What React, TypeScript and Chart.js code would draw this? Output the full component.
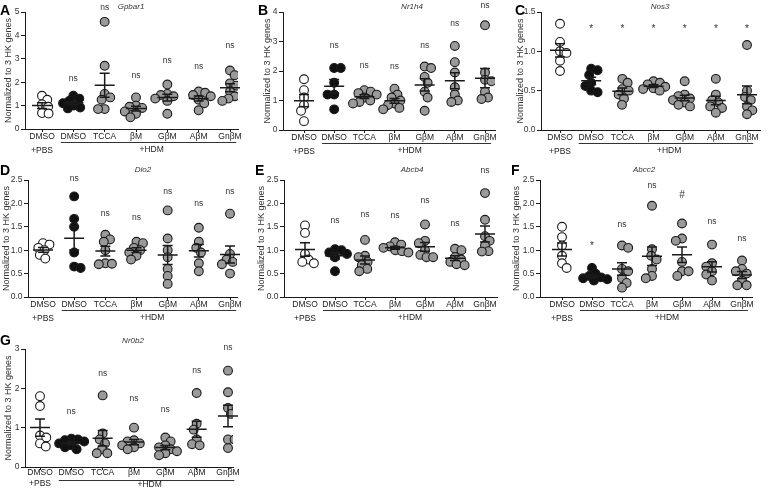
import { useEffect, useRef } from "react";
import { Chart, registerables } from "chart.js";
Chart.register(...registerables);

const FONT = "'Liberation Sans', Arial, Helvetica, sans-serif";

const categories: (string | string[])[] = [["DMSO", "+PBS"], "DMSO", "TCCA", "βM", "GβM", "AβM", "GnβM"];
const hdmLabel = "+HDM";
const yTitle = "Normalized to 3 HK genes";

// A — Gpbar1
const gpbar1: number[][] = [
  [1.42, 1.25, 1.05, 0.95, 0.68, 0.66],
  [1.42, 1.3, 1.2, 1.1, 1.0, 0.92, 0.88],
  [4.58, 2.7, 1.5, 1.35, 1.25, 0.85, 0.85],
  [1.35, 1.0, 0.95, 0.9, 0.75, 0.65, 0.5],
  [1.9, 1.5, 1.45, 1.4, 1.3, 1.2, 0.65],
  [1.6, 1.55, 1.45, 1.4, 1.25, 1.1, 0.8],
  [2.5, 2.3, 1.95, 1.85, 1.6, 1.4, 1.3, 1.2],
];
const gpbar1Marks = ["", "ns", "ns", "ns", "ns", "ns", "ns"];
const gpbar1MarkY = [0, 2.15, 5.18, 2.3, 2.9, 2.65, 3.56];

// B — Nr1h4
const nr1h4: number[][] = [
  [1.72, 1.35, 1.1, 0.85, 0.65, 0.3],
  [2.1, 2.1, 1.6, 1.2, 1.2, 0.7],
  [1.35, 1.3, 1.25, 1.2, 1.1, 1.0, 0.95, 0.9],
  [1.4, 1.2, 1.1, 1.0, 0.9, 0.85, 0.75, 0.7],
  [2.15, 2.1, 1.8, 1.6, 1.3, 1.1, 0.65],
  [2.85, 2.3, 1.95, 1.45, 1.2, 1.0, 0.95],
  [3.55, 1.95, 1.7, 1.65, 1.3, 1.1, 1.05],
];
const nr1h4Marks = ["", "ns", "ns", "ns", "ns", "ns", "ns"];
const nr1h4MarkY = [0, 2.85, 2.17, 2.14, 2.87, 3.6, 4.22];

// C — Nos3
const nos3: number[][] = [
  [1.35, 1.12, 1.0, 0.98, 0.88, 0.75],
  [0.78, 0.76, 0.7, 0.6, 0.56, 0.5, 0.48],
  [0.65, 0.6, 0.52, 0.5, 0.45, 0.4, 0.32],
  [0.62, 0.6, 0.58, 0.55, 0.53, 0.52, 0.5],
  [0.62, 0.45, 0.43, 0.4, 0.38, 0.35, 0.32, 0.3],
  [0.65, 0.45, 0.38, 0.35, 0.3, 0.28, 0.22],
  [1.08, 0.5, 0.42, 0.38, 0.3, 0.25, 0.2],
];
const nos3Marks = ["", "*", "*", "*", "*", "*", "*"];
const nos3MarkY = [0, 1.28, 1.28, 1.28, 1.28, 1.28, 1.28];

// D — Dio2
const dio2: number[][] = [
  [1.15, 1.12, 1.05, 1.0, 0.9, 0.82],
  [2.15, 1.67, 1.5, 0.95, 0.65, 0.62],
  [1.33, 1.23, 1.18, 1.0, 0.72, 0.71, 0.7],
  [1.18, 1.15, 1.05, 1.0, 0.95, 0.88, 0.8],
  [1.85, 1.25, 1.0, 0.85, 0.6, 0.45, 0.28],
  [1.48, 1.18, 1.05, 0.95, 0.72, 0.55],
  [1.78, 0.92, 0.8, 0.75, 0.7, 0.5],
];
const dio2Marks = ["", "ns", "ns", "ns", "ns", "ns", "ns"];
const dio2MarkY = [0, 2.52, 1.78, 1.7, 2.26, 1.99, 2.26];

// E — Abcb4
const abcb4: number[][] = [
  [1.53, 1.37, 0.92, 0.8, 0.75, 0.72],
  [1.02, 1.0, 0.95, 0.92, 0.85, 0.55],
  [1.22, 0.88, 0.85, 0.75, 0.68, 0.6, 0.55],
  [1.17, 1.12, 1.08, 1.05, 1.0, 0.98, 0.95],
  [1.55, 1.2, 1.15, 1.0, 0.9, 0.85, 0.85],
  [1.03, 1.0, 0.85, 0.8, 0.75, 0.7, 0.68],
  [2.22, 1.65, 1.3, 1.2, 1.1, 0.98, 0.97],
];
const abcb4Marks = ["", "ns", "ns", "ns", "ns", "ns", "ns"];
const abcb4MarkY = [0, 1.63, 1.77, 1.73, 2.05, 1.57, 2.7];

// F — Abcc2
const abcc2: number[][] = [
  [1.5, 1.28, 1.1, 0.88, 0.72, 0.62],
  [0.62, 0.5, 0.45, 0.42, 0.4, 0.38, 0.35],
  [1.1, 1.05, 0.6, 0.55, 0.4, 0.3, 0.2],
  [1.95, 1.02, 0.88, 0.8, 0.6, 0.45, 0.4],
  [1.57, 1.25, 1.2, 0.75, 0.55, 0.55, 0.45],
  [1.12, 0.72, 0.65, 0.55, 0.48, 0.35],
  [0.78, 0.6, 0.55, 0.5, 0.35, 0.25, 0.25],
];
const abcc2Marks = ["", "*", "ns", "ns", "#", "ns", "ns"];
const abcc2MarkY = [0, 1.08, 1.54, 2.38, 2.17, 1.62, 1.25];

// G — Nr0b2
const nr0b2: number[][] = [
  [1.8, 1.55, 0.8, 0.75, 0.6, 0.52],
  [0.72, 0.7, 0.68, 0.65, 0.6, 0.55, 0.5, 0.45],
  [1.82, 0.85, 0.7, 0.6, 0.45, 0.35, 0.35],
  [1.0, 0.68, 0.65, 0.6, 0.55, 0.5, 0.45],
  [0.75, 0.65, 0.55, 0.5, 0.45, 0.4, 0.35, 0.3],
  [1.88, 1.1, 0.95, 0.7, 0.58, 0.55],
  [2.45, 1.9, 1.5, 1.35, 0.7, 0.7, 0.48],
];
const nr0b2Marks = ["", "ns", "ns", "ns", "ns", "ns", "ns"];
const nr0b2MarkY = [0, 1.4, 2.37, 1.73, 1.47, 2.45, 3.03];

// layout table (absolute page pixels)
type Panel = {
  letter: string; gene: string; groups: number[][]; marks: string[]; markY: number[];
  yMax: number; yStep: number; decimals: number;
  cLeft: number; cTop: number; cW: number; cH: number;
  axisX: number; plotTop: number; plotBottom: number; plotRight: number; cat0: number; cat6: number;
  letterX: number; letterY: number; titleX: number; titleY: number; yTitleX: number;
  labelLH: number; hdmDy: number;
};

const panels: Panel[] = [
  { letter: "A", gene: "Gpbar1", groups: gpbar1, marks: gpbar1Marks, markY: gpbar1MarkY, yMax: 5, yStep: 1, decimals: 0,
    cLeft: 0, cTop: 0, cW: 256, cH: 172, axisX: 25, plotTop: 12, plotBottom: 129, plotRight: 238, cat0: 42, cat6: 230,
    letterX: 0, letterY: 15, titleX: 131, titleY: 7, yTitleX: 9, labelLH: 1.65, hdmDy: 21 },
  { letter: "B", gene: "Nr1h4", groups: nr1h4, marks: nr1h4Marks, markY: nr1h4MarkY, yMax: 4, yStep: 1, decimals: 0,
    cLeft: 256, cTop: 0, cW: 256, cH: 172, axisX: 283, plotTop: 12, plotBottom: 130, plotRight: 495, cat0: 304, cat6: 485,
    letterX: 258, letterY: 15, titleX: 412, titleY: 7, yTitleX: 268, labelLH: 1.65, hdmDy: 21 },
  { letter: "C", gene: "Nos3", groups: nos3, marks: nos3Marks, markY: nos3MarkY, yMax: 1.5, yStep: 0.5, decimals: 1,
    cLeft: 512, cTop: 0, cW: 256, cH: 172, axisX: 541, plotTop: 12, plotBottom: 130, plotRight: 760, cat0: 560, cat6: 747,
    letterX: 515, letterY: 15, titleX: 660, titleY: 7, yTitleX: 521, labelLH: 1.65, hdmDy: 21 },
  { letter: "D", gene: "Dio2", groups: dio2, marks: dio2Marks, markY: dio2MarkY, yMax: 2.5, yStep: 0.5, decimals: 1,
    cLeft: 0, cTop: 160, cW: 256, cH: 172, axisX: 28, plotTop: 180, plotBottom: 297, plotRight: 237, cat0: 43, cat6: 230,
    letterX: 0, letterY: 175, titleX: 143, titleY: 170, yTitleX: 7, labelLH: 1.65, hdmDy: 21 },
  { letter: "E", gene: "Abcb4", groups: abcb4, marks: abcb4Marks, markY: abcb4MarkY, yMax: 2.5, yStep: 0.5, decimals: 1,
    cLeft: 256, cTop: 160, cW: 256, cH: 172, axisX: 284, plotTop: 180, plotBottom: 297, plotRight: 497, cat0: 305, cat6: 485,
    letterX: 255, letterY: 175, titleX: 412, titleY: 170, yTitleX: 262, labelLH: 1.65, hdmDy: 21 },
  { letter: "F", gene: "Abcc2", groups: abcc2, marks: abcc2Marks, markY: abcc2MarkY, yMax: 2.5, yStep: 0.5, decimals: 1,
    cLeft: 512, cTop: 160, cW: 256, cH: 172, axisX: 540, plotTop: 180, plotBottom: 297, plotRight: 752, cat0: 562, cat6: 742,
    letterX: 511, letterY: 175, titleX: 644, titleY: 170, yTitleX: 517, labelLH: 1.65, hdmDy: 21 },
  { letter: "G", gene: "Nr0b2", groups: nr0b2, marks: nr0b2Marks, markY: nr0b2MarkY, yMax: 3, yStep: 1, decimals: 0,
    cLeft: 0, cTop: 320, cW: 256, cH: 170, axisX: 25, plotTop: 349, plotBottom: 467, plotRight: 233, cat0: 40, cat6: 228,
    letterX: 0, letterY: 345, titleX: 133, titleY: 341, yTitleX: 9, labelLH: 1.2, hdmDy: 18 },
];

const FILLS = ["#ffffff", "#111111", "#9a9a9a"];
const INK = "#1a1a1a";

function mean(a: number[]) { return a.reduce((s, v) => s + v, 0) / a.length; }
function sem(a: number[]) {
  const m = mean(a);
  const v = a.reduce((s, x) => s + (x - m) * (x - m), 0) / (a.length - 1);
  return Math.sqrt(v / a.length);
}

function swarm(vals: number[], ypx: number, minD: number): number[] {
  const idx = vals.map((_, i) => i).sort((a, b) => vals[b] - vals[a]);
  const placed: { x: number; y: number }[] = [];
  const out = new Array(vals.length).fill(0);
  let flip = 1;
  for (const i of idx) {
    const y = vals[i] * ypx;
    const cands = [0];
    for (const p of placed) {
      const dy = Math.abs(p.y - y);
      if (dy < minD) {
        const dx = Math.sqrt(minD * minD - dy * dy);
        cands.push(p.x + dx, p.x - dx);
      }
    }
    cands.sort((a, b) => Math.abs(a) - Math.abs(b) || (a - b) * flip);
    let chosen = 0;
    for (const c of cands) {
      if (placed.every((p) => (p.x - c) ** 2 + (p.y - y) ** 2 >= minD * minD - 0.01)) { chosen = c; break; }
    }
    flip = -flip;
    placed.push({ x: chosen, y });
    out[i] = chosen;
  }
  return out;
}

function PanelChart({ p }: { p: Panel }) {
  const ref = useRef<HTMLCanvasElement>(null);
  useEffect(() => {
    const canvas = ref.current!;
    const step = (p.cat6 - p.cat0) / 6;
    const xMin = -(p.cat0 - p.axisX) / step;
    const xMax = 6 + (p.plotRight - p.cat6) / step;
    const ypx = (p.plotBottom - p.plotTop) / p.yMax;

    const datasets = p.groups.map((vals, i) => {
      const offs = swarm(vals, ypx, 6.6);
      return {
        label: typeof categories[i] === "string" ? (categories[i] as string) : (categories[i] as string[]).join(" "),
        data: vals.map((v, j) => ({ x: i + offs[j] / step, y: v })),
        backgroundColor: FILLS[Math.min(i, 2)],
        borderColor: INK,
        borderWidth: 1.1,
        pointRadius: 4.4,
      };
    });

    const yTicks: { value: number }[] = [];
    for (let v = 0; v <= p.yMax + 1e-9; v += p.yStep) yTicks.push({ value: Math.round(v * 100) / 100 });

    const overlay = {
      id: "overlay" + p.letter,
      afterDatasetsDraw(chart: any) {
        const ctx = chart.ctx as CanvasRenderingContext2D;
        const xs = chart.scales.x, ys = chart.scales.y;
        ctx.save();
        ctx.strokeStyle = INK;
        ctx.lineWidth = 1.5;
        p.groups.forEach((vals, i) => {
          const m = mean(vals), s = sem(vals);
          const cx = xs.getPixelForValue(i);
          const py = ys.getPixelForValue(m);
          const t = ys.getPixelForValue(m + s), b = ys.getPixelForValue(m - s);
          ctx.beginPath();
          ctx.moveTo(cx - 10, py); ctx.lineTo(cx + 10, py);
          ctx.moveTo(cx, t); ctx.lineTo(cx, b);
          ctx.moveTo(cx - 5, t); ctx.lineTo(cx + 5, t);
          ctx.moveTo(cx - 5, b); ctx.lineTo(cx + 5, b);
          ctx.stroke();
        });
        ctx.restore();
      },
      afterDraw(chart: any) {
        const ctx = chart.ctx as CanvasRenderingContext2D;
        const xs = chart.scales.x, ys = chart.scales.y;
        const area = chart.chartArea;
        ctx.save();
        // significance marks
        ctx.fillStyle = "#333";
        ctx.textAlign = "center";
        ctx.textBaseline = "middle";
        p.marks.forEach((m, i) => {
          if (!m) return;
          ctx.font = (m === "ns" ? "8.5px " : "10px ") + FONT;
          ctx.fillText(m, xs.getPixelForValue(i), ys.getPixelForValue(p.markY[i]));
        });
        // bracket + HDM
        const by = p.plotBottom - p.cTop + 13;
        ctx.strokeStyle = "#333";
        ctx.lineWidth = 1;
        ctx.beginPath();
        ctx.moveTo(xs.getPixelForValue(0.6), by + 0.5);
        ctx.lineTo(xs.getPixelForValue(6.2), by + 0.5);
        ctx.stroke();
        ctx.fillStyle = INK;
        ctx.font = "8.5px " + FONT;
        ctx.fillText(hdmLabel, xs.getPixelForValue(3.5), p.plotBottom - p.cTop + p.hdmDy);
        // y-axis title
        ctx.save();
        ctx.translate(p.yTitleX - p.cLeft, (area.top + area.bottom) / 2);
        ctx.rotate(-Math.PI / 2);
        ctx.font = "9px " + FONT;
        ctx.fillStyle = "#333";
        ctx.fillText(yTitle, 0, 0);
        ctx.restore();
        // gene title
        ctx.font = "italic 8px " + FONT;
        ctx.fillStyle = "#333";
        ctx.fillText(p.gene, p.titleX - p.cLeft, p.titleY - p.cTop);
        // panel letter
        ctx.font = "bold 14px " + FONT;
        ctx.fillStyle = "#000";
        ctx.textAlign = "left";
        ctx.textBaseline = "alphabetic";
        ctx.fillText(p.letter, p.letterX - p.cLeft, p.letterY - p.cTop);
        ctx.restore();
      },
    };

    const chart = new Chart(canvas, {
      type: "scatter",
      data: { datasets },
      options: {
        animation: false,
        responsive: false,
        events: [],
        layout: {
          autoPadding: false,
          padding: { left: 0, top: p.plotTop - p.cTop, right: p.cW - (p.plotRight - p.cLeft), bottom: 0 },
        },
        plugins: { legend: { display: false }, tooltip: { enabled: false }, title: { display: false } },
        scales: {
          x: {
            type: "linear",
            min: xMin,
            max: xMax,
            afterBuildTicks: (s: any) => { s.ticks = categories.map((_, i) => ({ value: i })); },
            afterFit: (s: any) => { s.height = p.cH - (p.plotBottom - p.cTop); },
            grid: { display: true, drawOnChartArea: false, drawTicks: true, tickLength: 3, color: INK, lineWidth: 1 },
            border: { display: true, color: INK, width: 1 },
            ticks: {
              callback: (v: any) => categories[Math.round(v)] as any,
              font: { family: FONT, size: 8.5, lineHeight: p.labelLH },
              color: INK,
              padding: -2,
              maxRotation: 0,
              minRotation: 0,
              autoSkip: false,
            },
          },
          y: {
            type: "linear",
            min: 0,
            max: p.yMax,
            afterBuildTicks: (s: any) => { s.ticks = yTicks.map((t) => ({ value: t.value })); },
            afterFit: (s: any) => { s.width = p.axisX - p.cLeft; },
            grid: { display: true, drawOnChartArea: false, drawTicks: true, tickLength: 4, color: INK, lineWidth: 1 },
            border: { display: true, color: INK, width: 1 },
            ticks: {
              callback: (v: any) => Number(v).toFixed(p.decimals),
              font: { family: FONT, size: 8.5 },
              color: "#333",
              padding: 1.5,
            },
            title: { display: false },
          },
        },
      },
      plugins: [overlay],
    } as any);
    return () => chart.destroy();
  }, [p]);
  return (
    <canvas
      ref={ref}
      width={p.cW}
      height={p.cH}
      style={{ position: "absolute", left: p.cLeft, top: p.cTop, width: p.cW, height: p.cH }}
    />
  );
}

export default function App() {
  return (
    <div style={{ position: "absolute", left: 0, top: 0, width: 768, height: 490, background: "#fff", overflow: "hidden" }}>
      {panels.map((p) => (
        <PanelChart key={p.letter} p={p} />
      ))}
    </div>
  );
}
